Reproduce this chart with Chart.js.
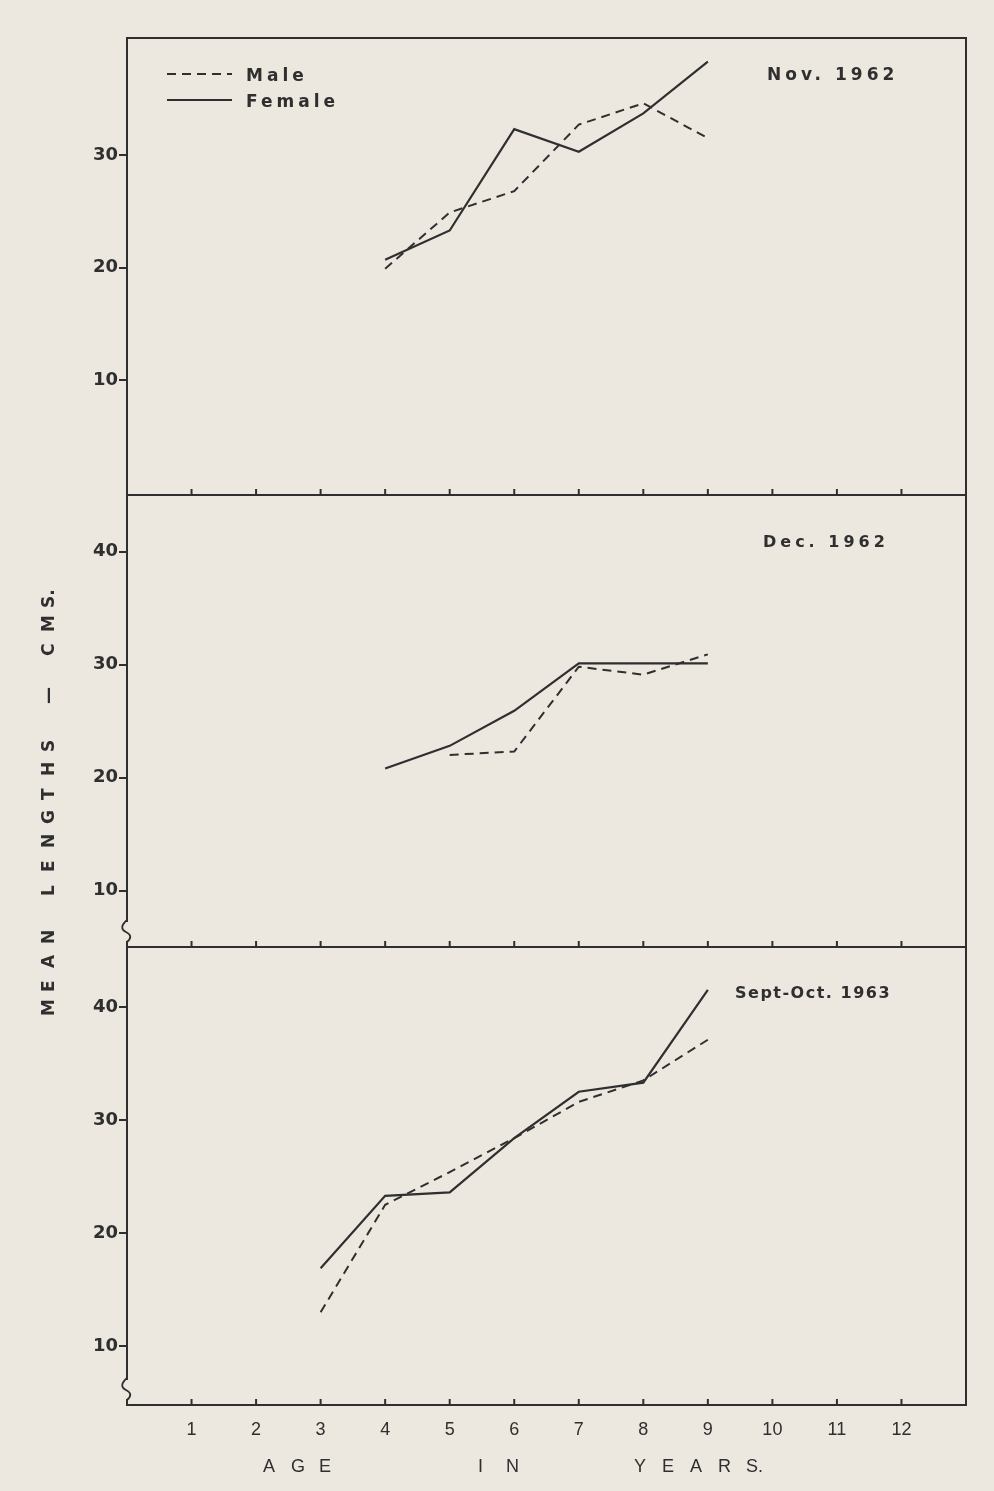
<!DOCTYPE html>
<html>
<head>
<meta charset="utf-8">
<script src="https://cdn.jsdelivr.net/npm/chart.js@4.4.1/dist/chart.umd.min.js"></script>
<style>
  body { margin: 0; width: 994px; height: 1491px; background: #ece7df; overflow: hidden; }
  canvas { display: block; }
</style>
</head>
<body>
<canvas id="chart" width="994" height="1491"></canvas>
<script>
const ages = [3, 4, 5, 6, 7, 8, 9];
const xTicks = [1, 2, 3, 4, 5, 6, 7, 8, 9, 10, 11, 12];

// Nov. 1962
const novMale   = [null, 19.9, 24.9, 26.8, 32.7, 34.6, 31.5];
const novFemale = [null, 20.7, 23.3, 32.3, 30.3, 33.7, 38.3];
const novTicks  = [10, 20, 30];

// Dec. 1962
const decMale   = [null, null, 22.0, 22.3, 29.8, 29.1, 30.9];
const decFemale = [null, 20.8, 22.8, 25.9, 30.1, 30.1, 30.1];
const decTicks  = [10, 20, 30, 40];

// Sept-Oct. 1963
const septMale   = [13.0, 22.5, 25.4, 28.4, 31.6, 33.5, 37.1];
const septFemale = [16.9, 23.3, 23.6, 28.4, 32.5, 33.3, 41.5];
const septTicks  = [10, 20, 30, 40];

const panelTitles = ['Nov. 1962', 'Dec. 1962', 'Sept-Oct. 1963'];
// spaced lettering, one glyph group per slot
const xTitleWords = [['A', 'G', 'E'], ['I', 'N'], ['Y', 'E', 'A', 'R', 'S.']];
const yTitle = ['M', 'E', 'A', 'N', ' ', 'L', 'E', 'N', 'G', 'T', 'H', 'S', ' ', '\u2014', ' ', 'C', 'M', 'S.'];

const INK = '#2f2f2f';
const PAPER = '#ece7df';

function points(vals) {
  return ages.map((a, i) => ({ x: a, y: vals[i] })).filter(p => p.y !== null);
}

function line(label, vals, axis) {
  const male = label === 'Male';
  return {
    label: label,
    data: points(vals),
    yAxisID: axis,
    borderColor: INK,
    borderWidth: male ? 2 : 2.2,
    borderDash: male ? [9, 6] : [],
    pointRadius: 0,
    tension: 0
  };
}

function yScale(min, max, ticks, weight) {
  return {
    type: 'linear',
    position: 'left',
    stack: 'panels',
    stackWeight: weight,
    min: min,
    max: max,
    border: { display: false },
    grid: { drawOnChartArea: false, drawTicks: true, tickLength: 8, color: INK, lineWidth: 2 },
    afterBuildTicks: s => { s.ticks = ticks.map(v => ({ value: v })); },
    afterFit: s => { s.width = 127; },
    ticks: {
      padding: 1,
      color: INK,
      font: { family: 'DejaVu Sans', size: 18, weight: 'bold' }
    }
  };
}

// frame, dividers, inward x ticks, axis breaks, panel titles, legend, axis titles
const sheetDecor = {
  id: 'sheetDecor',
  afterDraw(chart) {
    const ctx = chart.ctx;
    const a = chart.chartArea;
    const xs = chart.scales.x;
    const panels = [chart.scales.yNov, chart.scales.yDec, chart.scales.ySept];
    ctx.save();
    ctx.strokeStyle = INK;
    ctx.fillStyle = INK;
    ctx.lineWidth = 2;
    ctx.strokeRect(a.left, a.top, a.right - a.left, a.bottom - a.top);

    panels.forEach((s, k) => {
      const b = s.bottom;
      ctx.lineWidth = 2;
      ctx.beginPath();
      ctx.moveTo(a.left, b);
      ctx.lineTo(a.right, b);
      ctx.stroke();
      xTicks.forEach(v => {
        const px = xs.getPixelForValue(v);
        ctx.beginPath();
        ctx.moveTo(px, b);
        ctx.lineTo(px, b - 6);
        ctx.stroke();
      });
      if (k > 0) {
        const L = a.left;
        ctx.fillStyle = PAPER;
        ctx.fillRect(L - 2, b - 25, 4, 19);
        ctx.fillStyle = INK;
        ctx.lineWidth = 1.8;
        ctx.beginPath();
        ctx.moveTo(L, b - 27);
        ctx.quadraticCurveTo(L - 9, b - 19, L - 1, b - 15);
        ctx.quadraticCurveTo(L + 7, b - 11, L, b - 5);
        ctx.stroke();
      }
    });

    // panel titles
    ctx.textAlign = 'left';
    ctx.textBaseline = 'alphabetic';
    const tPos = [[640, 42, 17, 4], [636, 52, 16, 4], [608, 51, 16, 1.5]];
    panels.forEach((s, k) => {
      const [dx, dy, size, sp] = tPos[k];
      ctx.font = 'bold ' + size + 'px "DejaVu Sans"';
      ctx.letterSpacing = sp + 'px';
      ctx.fillText(panelTitles[k], a.left + dx, s.top + dy);
    });

    // legend (top panel)
    ctx.font = 'bold 17px "DejaVu Sans"';
    ctx.letterSpacing = '4px';
    chart.data.datasets.slice(0, 2).forEach((ds, i) => {
      const y = panels[0].top + 36 + i * 26;
      ctx.lineWidth = ds.borderWidth;
      ctx.setLineDash(ds.borderDash);
      ctx.beginPath();
      ctx.moveTo(a.left + 40, y);
      ctx.lineTo(a.left + 105, y);
      ctx.stroke();
      ctx.setLineDash([]);
      ctx.fillText(ds.label, a.left + 119, y + 7);
    });
    ctx.letterSpacing = '0px';

    // x axis title
    ctx.font = '18px "Liberation Sans"';
    ctx.textAlign = 'left';
    ctx.textBaseline = 'middle';
    const starts = [263, 478, 634];
    xTitleWords.forEach((w, k) => {
      w.forEach((ch, i) => ctx.fillText(ch, starts[k] + i * 28, a.bottom + 62));
    });

    // y axis title, rotated
    ctx.font = 'bold 17px "DejaVu Sans"';
    ctx.textAlign = 'left';
    yTitle.forEach((ch, i) => {
      ctx.save();
      ctx.translate(50, 1016 - i * 24);
      ctx.rotate(-Math.PI / 2);
      ctx.fillText(ch, 0, 0);
      ctx.restore();
    });
    ctx.restore();
  }
};

new Chart(document.getElementById('chart'), {
  type: 'line',
  data: {
    datasets: [
      line('Male', novMale, 'yNov'),
      line('Female', novFemale, 'yNov'),
      line('Male', decMale, 'yDec'),
      line('Female', decFemale, 'yDec'),
      line('Male', septMale, 'ySept'),
      line('Female', septFemale, 'ySept')
    ]
  },
  options: {
    responsive: false,
    animation: false,
    layout: { padding: { left: 0, right: 28, top: 38, bottom: 0 } },
    plugins: {
      legend: { display: false },
      tooltip: { enabled: false }
    },
    scales: {
      x: {
        type: 'linear',
        min: 0,
        max: 13,
        border: { display: false },
        grid: { display: false, drawTicks: false },
        afterBuildTicks: s => { s.ticks = xTicks.map(v => ({ value: v })); },
        afterFit: s => { s.height = 86; },
        ticks: {
          padding: 14,
          color: INK,
          font: { family: 'Liberation Sans', size: 18 }
        }
      },
      // stacked axes are placed bottom-up in key order
      ySept: yScale(4.8, 45.3, septTicks, 458),
      yDec: yScale(5, 45, decTicks, 452),
      yNov: yScale(-0.2, 40.4, novTicks, 457)
    }
  },
  plugins: [sheetDecor]
});
</script>
</body>
</html>
